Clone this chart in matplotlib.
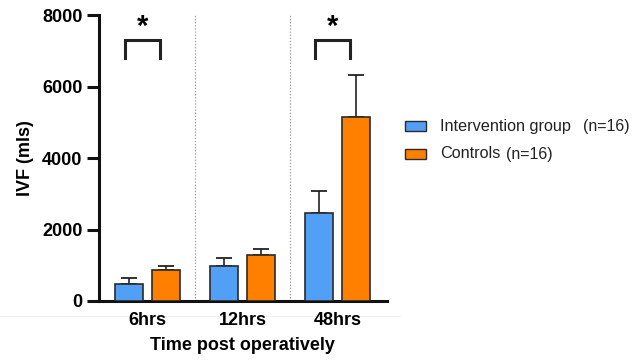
import matplotlib
matplotlib.use("Agg")
import matplotlib.pyplot as plt
from matplotlib.patches import Rectangle
from matplotlib.lines import Line2D
import numpy as np

# Data: mean IVF volume (mls) with upper SD bar, by time point
timepoints = ["6hrs", "12hrs", "48hrs"]
intervention_mean = [480, 990, 2460]
intervention_err = [160, 220, 620]
control_mean = [870, 1290, 5140]
control_err = [120, 170, 1170]
series_labels = ["Intervention group", "Controls"]
series_counts = ["(n=16)", "(n=16)"]
significant_groups = [0, 2]

BLUE = "#529ff6"
ORANGE = "#ff8000"
BOLD = dict(family="Liberation Sans", fontweight="bold")

fig = plt.figure(figsize=(6.33, 3.6), dpi=100)
ax = fig.add_axes([0.1564, 0.1639, 0.4546, 0.7944])

x = np.arange(len(timepoints))
width = 0.295
offset = 0.195

for means, errs, color, sign in [(intervention_mean, intervention_err, BLUE, -1),
                                  (control_mean, control_err, ORANGE, 1)]:
    pos = x + sign * offset
    ax.bar(pos, means, width=width, color=color, edgecolor="#2a2a2a",
           linewidth=1.2, zorder=3)
    ax.errorbar(pos, means, yerr=[np.zeros(len(errs)), errs], fmt="none",
                ecolor="#222222", elinewidth=1.2, capsize=6, capthick=1.3,
                zorder=2)

# dotted separators between time points
for sep in x[:-1] + 0.5:
    ax.axvline(sep, color="#9a9a9a", linestyle=(0, (1, 1.5)), linewidth=0.9,
               zorder=1)

# significance brackets
for g in significant_groups:
    left = g - 0.24
    right = g + 0.13
    ax.plot([left, left, right, right], [6800, 7300, 7300, 6800],
            color="#222222", linewidth=2.2, solid_joinstyle="miter",
            clip_on=False)
    ax.text((left + right) / 2, 7680, "*", ha="center", va="center",
            fontsize=21, **BOLD)

ax.set_xlim(-0.51, 2.52)
ax.set_ylim(0, 8000)
ax.set_yticks([0, 2000, 4000, 6000, 8000])
ax.set_xticks(x)
ax.set_xticklabels(timepoints)

for side in ["top", "right"]:
    ax.spines[side].set_visible(False)
for side in ["left", "bottom"]:
    ax.spines[side].set_linewidth(2.2)
    ax.spines[side].set_color("#111111")

ax.tick_params(axis="y", length=8.5, width=2.2, pad=3.5, color="#111111")
ax.tick_params(axis="x", length=0, pad=8)
for lab in ax.get_xticklabels() + ax.get_yticklabels():
    lab.set_fontfamily("Liberation Sans")
    lab.set_fontweight("bold")
    lab.set_fontsize(13)

ax.set_ylabel("IVF (mls)", fontsize=13, labelpad=6, **BOLD)
ax.set_xlabel("Time post operatively", fontsize=13, labelpad=6, **BOLD)

# faint rule under the axis, kept behind everything else
fig.lines.append(Line2D([0, 400 / 633], [1 - 316 / 360] * 2,
                        transform=fig.transFigure, color="#f1f1f1",
                        linewidth=0.8, zorder=-5))

# legend drawn in figure coordinates
rows_y = [1 - 126 / 360, 1 - 154 / 360]
label_x = 440 / 633
count_x = [583 / 633, 506 / 633]
for (yy, color, lab, cnt, cx) in zip(rows_y, [BLUE, ORANGE], series_labels,
                                     series_counts, count_x):
    fig.patches.append(Rectangle((405 / 633, yy - 5 / 360), 21 / 633, 10 / 360,
                                 transform=fig.transFigure, facecolor=color,
                                 edgecolor="#2a2a2a", linewidth=1.0))
    fig.text(label_x, yy, lab, ha="left", va="center", fontsize=11.7,
             family="Liberation Sans", color="#222222")
    fig.text(cx, yy, cnt, ha="left", va="center", fontsize=11.5,
             family="Liberation Sans", color="#222222")

fig.savefig("out.png", dpi=100, facecolor="white")
